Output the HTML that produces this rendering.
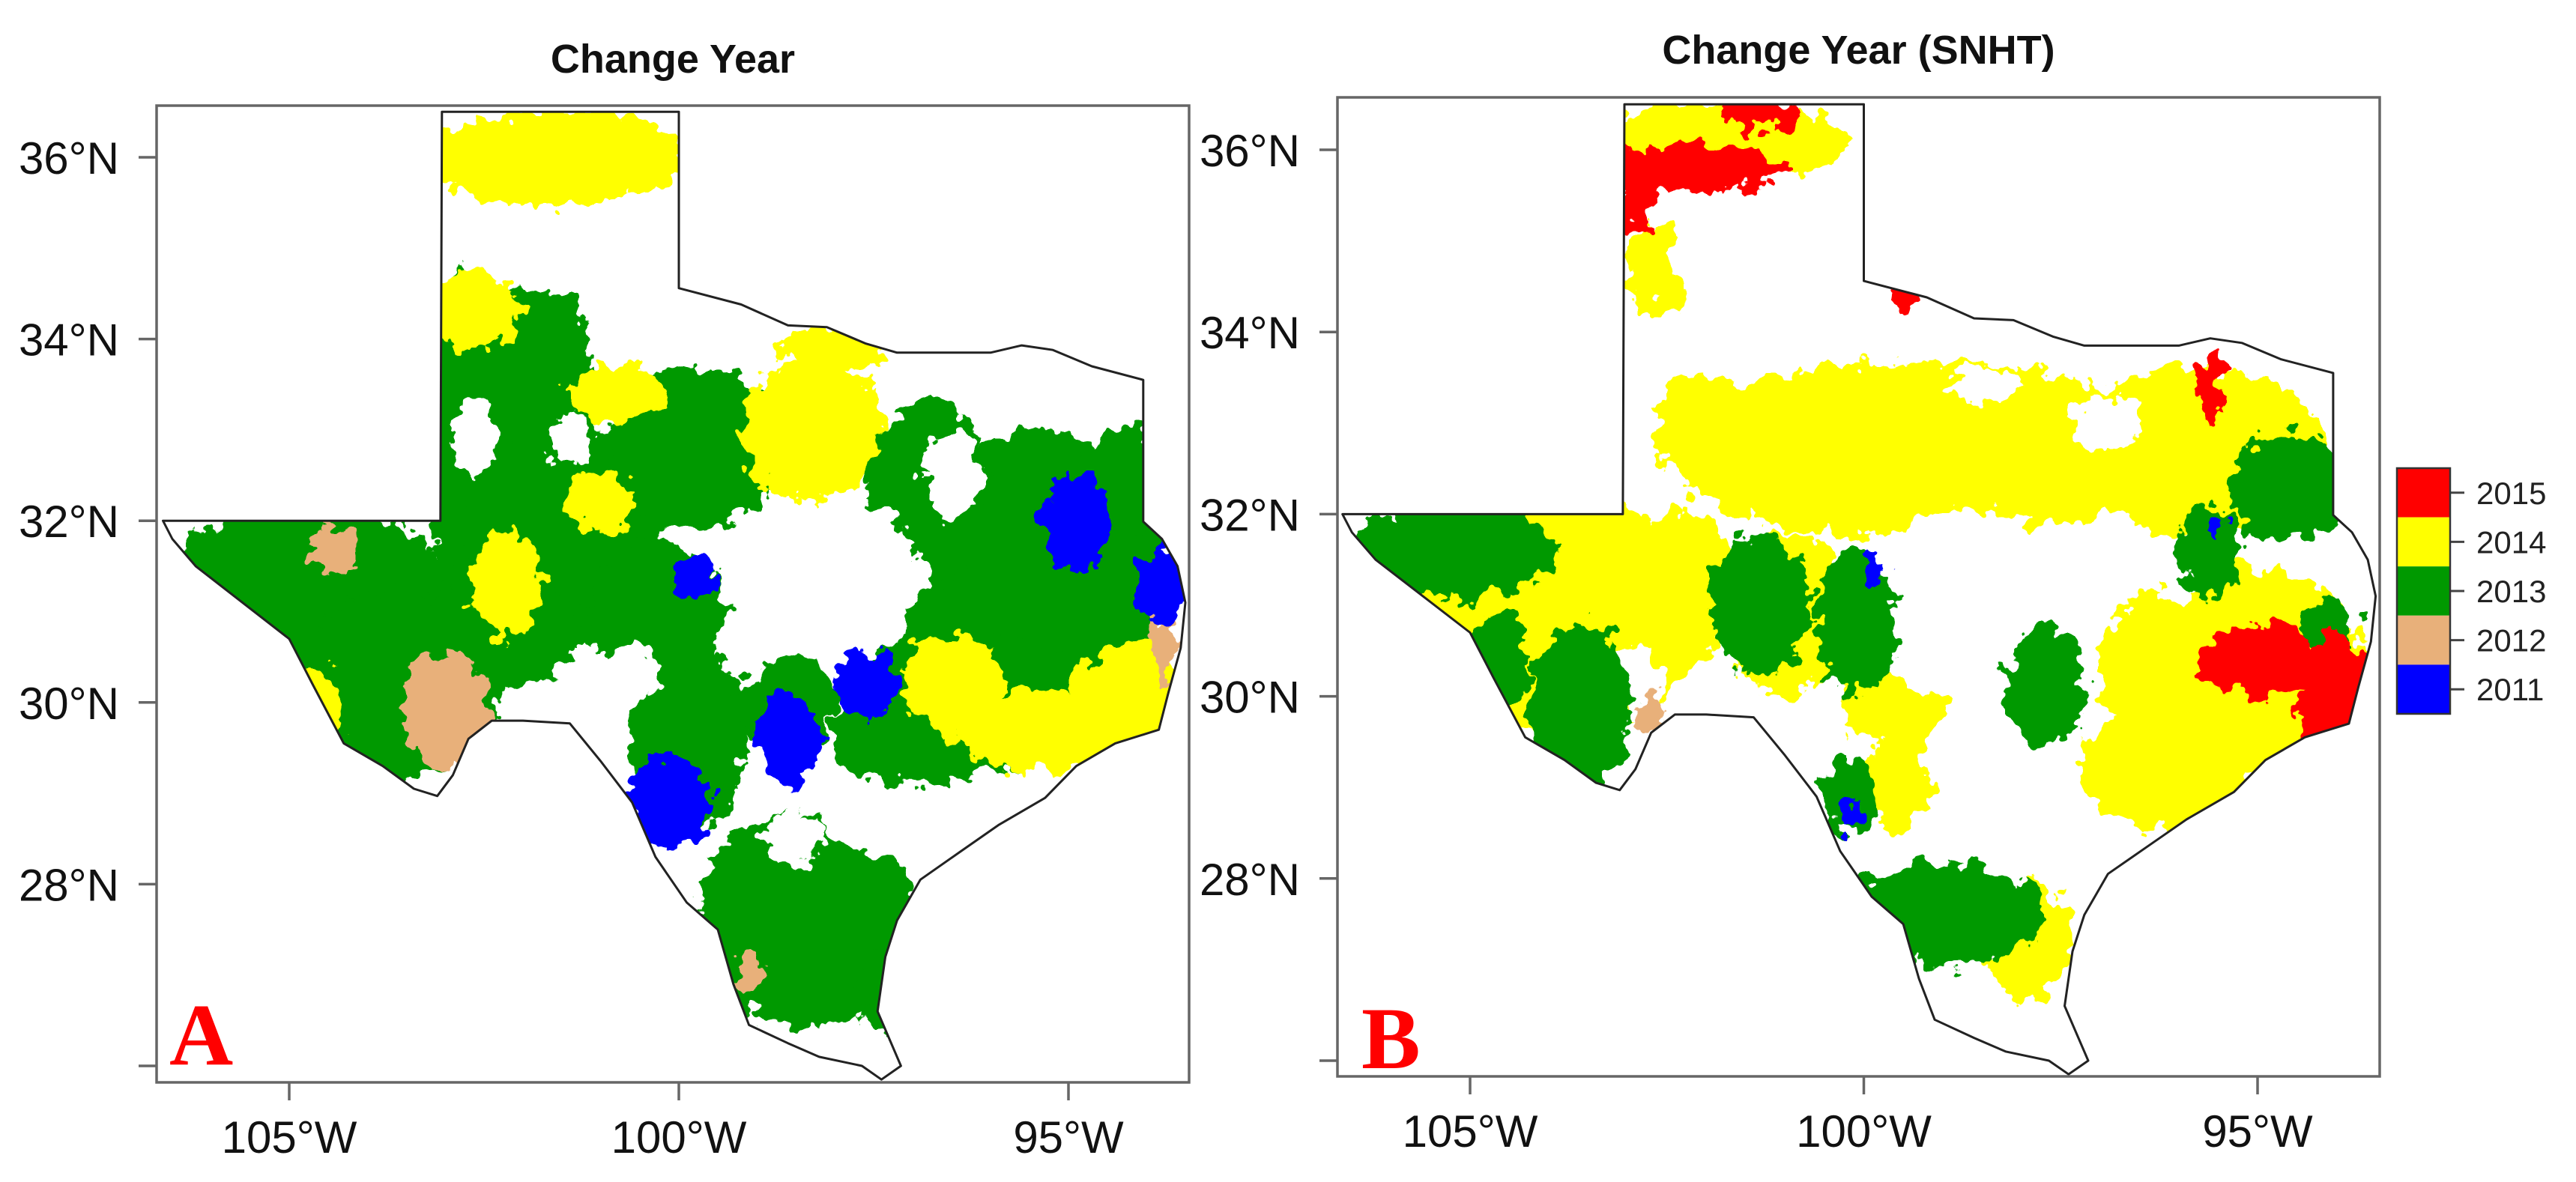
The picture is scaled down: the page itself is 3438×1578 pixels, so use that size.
<!DOCTYPE html>
<html><head><meta charset="utf-8"><style>
html,body{margin:0;padding:0;background:#fff;}
svg{display:block;}
.sans{font-family:"Liberation Sans",Arial,sans-serif;}
.serif{font-family:"Liberation Serif","Times New Roman",serif;}
</style></head><body>
<svg id="chart" width="3438" height="1578" viewBox="0 0 3438 1578" xmlns="http://www.w3.org/2000/svg">
<defs>
<filter id="rag" x="-10%" y="-10%" width="120%" height="120%">
<feTurbulence type="fractalNoise" baseFrequency="0.04" numOctaves="3" seed="4" result="n"/>
<feDisplacementMap in="SourceGraphic" in2="n" scale="50" xChannelSelector="R" yChannelSelector="G"/>
</filter>
<clipPath id="clipA"><path id="clipPathA"/></clipPath>
<clipPath id="clipB"><path id="clipPathB"/></clipPath>
</defs>
<g id="panelA"></g>
<g id="panelB"></g>
<g id="legend"></g>
</svg>
<script>
const NS = "http://www.w3.org/2000/svg";
const latTicks = [36, 34, 32, 30, 28, 26];
const latLabels = ["36°N", "34°N", "32°N", "30°N", "28°N", ""];
const lonTicks = [-105, -100, -95];
const lonLabels = ["105°W", "100°W", "95°W"];
const legendYears = ["2015", "2014", "2013", "2012", "2011"];
const legendColors = ["#ff0000", "#ffff00", "#009900", "#e8b07a", "#0000ff"];
const catColors = {r:"#ff0000", y:"#ffff00", g:"#009900", t:"#e8b07a", b:"#0000ff", w:"#ffffff"};
const texasLon = [-103.04,-100.0,-100.0,-99.2,-98.6,-98.1,-97.6,-97.2,-96.6,-96.0,-95.6,-95.2,-94.7,-94.04,-94.04,-94.04,-93.8,-93.6,-93.5,-93.56,-93.72,-93.84,-94.4,-94.9,-95.3,-95.9,-96.4,-96.9,-97.2,-97.35,-97.45,-97.15,-97.4,-97.65,-98.2,-98.6,-99.1,-99.3,-99.5,-99.9,-100.3,-100.6,-101.0,-101.4,-102.0,-102.4,-102.7,-102.9,-103.1,-103.4,-103.8,-104.3,-104.7,-105.0,-105.6,-106.2,-106.5,-106.62,-103.06];
const texasLat = [36.5,36.5,34.56,34.38,34.15,34.13,33.95,33.85,33.85,33.85,33.93,33.88,33.7,33.55,33.0,31.99,31.8,31.5,31.1,30.6,30.1,29.7,29.55,29.3,28.95,28.65,28.35,28.05,27.6,27.2,26.6,26.0,25.85,26.0,26.1,26.25,26.45,26.9,27.5,27.8,28.3,28.9,29.35,29.77,29.8,29.8,29.6,29.2,28.97,29.05,29.3,29.55,30.2,30.7,31.1,31.5,31.8,32.0,32.0];
const blobsA = [
["g",-102.2,33.0,0.9,1.6],["g",-101.5,31.8,1.0,0.9],["g",-99.8,32.8,0.9,0.7],["g",-95.4,31.2,1.3,1.4],["g",-96.3,30.0,1.2,0.6],["g",-104.8,31.0,1.6,0.9],["g",-103.6,30.2,1.0,0.8],["g",-98.4,27.6,1.1,0.9],["g",-99.9,29.6,0.6,0.8],["g",-102.3,30.8,0.8,0.5],["g",-94.3,32.4,0.4,0.5],["g",-97.3,26.8,0.3,0.4],["g",-100.3,31.0,0.7,0.6],["g",-97.0,29.6,0.8,0.4],["g",-96.8,32.3,0.6,0.8],["g",-98.6,30.0,0.5,0.4],
["w",-98.2,31.4,1.4,0.9],["w",-101.7,35.0,1.2,0.5],["w",-102.6,32.9,0.3,0.4],["w",-96.5,32.5,0.4,0.5],["w",-97.3,28.7,0.9,0.35],["w",-98.5,28.5,0.4,0.3],["w",-97.6,26.2,0.3,0.3],["w",-95.8,33.2,0.4,0.3],["w",-100.7,30.3,0.5,0.35],["w",-101.4,32.9,0.3,0.3],
["y",-101.6,36.0,1.3,0.4],["y",-102.6,34.3,0.45,0.35],["y",-98.3,33.0,0.7,0.6],["y",-98.0,33.9,0.5,0.2],["y",-94.2,30.0,0.6,0.5],["y",-95.3,29.7,0.9,0.35],["y",-102.2,31.3,0.35,0.45],["y",-96.5,30.2,0.5,0.4],["y",-104.7,29.9,0.3,0.4],["y",-101.0,32.2,0.35,0.25],["y",-100.8,33.4,0.45,0.25],
["t",-103.0,29.9,0.45,0.5],["t",-104.4,31.7,0.25,0.18],["t",-99.1,27.1,0.15,0.2],["t",-93.8,30.6,0.1,0.3],
["b",-94.9,32.0,0.35,0.4],["b",-93.8,31.3,0.25,0.35],["b",-100.1,28.9,0.4,0.4],["b",-98.6,29.6,0.3,0.4],["b",-97.6,30.2,0.3,0.3],["b",-99.8,31.4,0.2,0.2]
];
const blobsB = [
["y",-99.3,32.7,2.5,0.75],["y",-95.8,32.7,1.3,0.7],["y",-104.2,30.9,1.8,1.0],["y",-95.3,30.3,1.3,0.9],["y",-96.2,29.2,0.8,0.5],["y",-101.8,36.1,1.2,0.35],["y",-102.6,34.7,0.35,0.4],["y",-99.6,30.0,0.5,0.5],["y",-97.9,27.3,0.4,0.5],["y",-102.3,31.4,0.5,0.5],["y",-102.0,33.0,0.5,0.4],["y",-101.0,30.9,0.6,0.7],["y",-99.6,29.0,0.35,0.35],
["w",-98.6,31.0,1.6,1.1],["w",-101.0,34.8,1.5,0.9],["w",-96.9,33.0,0.5,0.3],["w",-102.9,30.2,0.4,0.4],["w",-96.0,31.4,0.4,0.4],["w",-102.5,33.9,0.4,0.4],["w",-98.5,33.4,0.5,0.2],
["g",-105.2,31.6,1.0,0.4],["g",-103.6,29.9,0.5,0.7],["g",-101.3,31.0,0.5,0.6],["g",-100.1,30.8,0.4,0.6],["g",-97.7,30.1,0.4,0.5],["g",-94.6,32.3,0.6,0.45],["g",-95.6,31.6,0.3,0.4],["g",-99.0,27.6,1.0,0.45],["g",-100.2,28.9,0.3,0.3],["g",-94.1,30.8,0.3,0.2],["g",-104.6,30.4,0.3,0.4],
["r",-102.2,35.8,1.0,0.2],["r",-101.3,36.4,0.4,0.15],["r",-102.9,35.4,0.15,0.25],["r",-95.0,30.4,0.6,0.3],["r",-94.0,29.9,0.35,0.6],["r",-95.6,33.4,0.12,0.3],["r",-99.5,34.35,0.12,0.08],
["t",-102.7,29.8,0.15,0.2],
["b",-99.9,31.4,0.1,0.15],["b",-100.2,28.7,0.08,0.15],["b",-95.5,31.9,0.1,0.1]
];

function el(tag, attrs, parent){ const e=document.createElementNS(NS,tag); for(const k in attrs) e.setAttribute(k,attrs[k]); parent.appendChild(e); return e; }

function drawPanel(cfg){
  const g = document.getElementById(cfg.id);
  const X = lon => cfg.x0 + (lon + 105) * cfg.kx;
  const Y = lat => cfg.y0 + (36 - lat) * cfg.ky;
  let d = texasLon.map((lo,i)=>(i?"L":"M")+X(lo).toFixed(1)+","+Y(texasLat[i]).toFixed(1)).join("")+"Z";
  document.getElementById(cfg.clip).setAttribute("d", d);
  const t = el("text",{x:(cfg.fl+cfg.fr)/2, y:cfg.ty, "text-anchor":"middle","font-size":"54","font-weight":"bold",fill:"#111","class":"sans"},g);
  t.textContent = cfg.title;
  
  
  const bg = el("g",{"clip-path":"url(#"+cfg.clipId+")"},g);
  
  
  const inner = el("g",{filter:"url(#rag)"},bg);
  cfg.blobs.forEach(b=>{
    const k = b[0]==="w" ? 0.95 : 1.3;
    const e = el("ellipse",{cx:X(b[1]),cy:Y(b[2]),rx:b[3]*cfg.kx*k,ry:b[4]*cfg.ky*k,fill:catColors[b[0]]},inner);
    
    
  });
  const outline = el("path",{d:d,fill:"none",stroke:"#222","stroke-width":"3","stroke-linejoin":"round"},g);
  
  
  const fr = el("rect",{x:cfg.fl,y:cfg.ft,width:cfg.fr-cfg.fl,height:cfg.fb-cfg.ft,fill:"none",stroke:"#666","stroke-width":"3.5"},g);
  
  
  latTicks.forEach((lat,i)=>{
    const y=Y(lat);
    const tk=el("line",{x1:cfg.fl-24,x2:cfg.fl,y1:y,y2:y,stroke:"#666","stroke-width":"3.5"},g);
    
    
    if(latLabels[i]){
      const tx=el("text",{x:cfg.fl-50,y:y+22,"text-anchor":"end","font-size":"60",fill:"#111","class":"sans"},g);
      tx.textContent=latLabels[i];
      
      
    }
  });
  lonTicks.forEach((lon,i)=>{
    const x=X(lon);
    const tk=el("line",{x1:x,x2:x,y1:cfg.fb,y2:cfg.fb+24,stroke:"#666","stroke-width":"3.5"},g);
    
    
    const tx=el("text",{x:x,y:cfg.fb+94,"text-anchor":"middle","font-size":"60",fill:"#111","class":"sans"},g);
    tx.textContent=lonLabels[i];
    
    
  });
  const L=el("text",{x:cfg.lx,y:cfg.ly,"font-size":"118","font-weight":"bold",fill:"#ff0000","class":"serif"},g);
  L.textContent=cfg.letter;
  
  
}

drawPanel({id:"panelA",clip:"clipPathA",clipId:"clipA",title:"Change Year",x0:386,kx:104,y0:210,ky:121.3,fl:209,fr:1587,ft:141,fb:1445,ty:97,blobs:blobsA,letter:"A",lx:226,ly:1421});
drawPanel({id:"panelB",clip:"clipPathB",clipId:"clipB",title:"Change Year (SNHT)",x0:1962,kx:105.1,y0:200,ky:121.6,fl:1785,fr:3176,ft:130,fb:1437,ty:85,blobs:blobsB,letter:"B",lx:1817,ly:1426});

const lg=document.getElementById("legend");
const lx=3199, ly=625, lw=71, lh=65.6;
legendYears.forEach((yr,i)=>{
  const r=el("rect",{x:lx,y:ly+i*lh,width:lw,height:lh,fill:legendColors[i]},lg);
  
  
  const tk=el("line",{x1:lx+lw,x2:lx+lw+19,y1:ly+(i+0.5)*lh,y2:ly+(i+0.5)*lh,stroke:"#444","stroke-width":"3"},lg);
  
  
  const t=el("text",{x:lx+lw+35,y:ly+(i+0.5)*lh+15,"font-size":"42",fill:"#222","class":"sans"},lg);
  t.textContent=yr;
  
  
});
const lb=el("rect",{x:lx,y:ly,width:lw,height:lh*5,fill:"none",stroke:"#333","stroke-width":"2.5"},lg);


</script>
</body></html>
